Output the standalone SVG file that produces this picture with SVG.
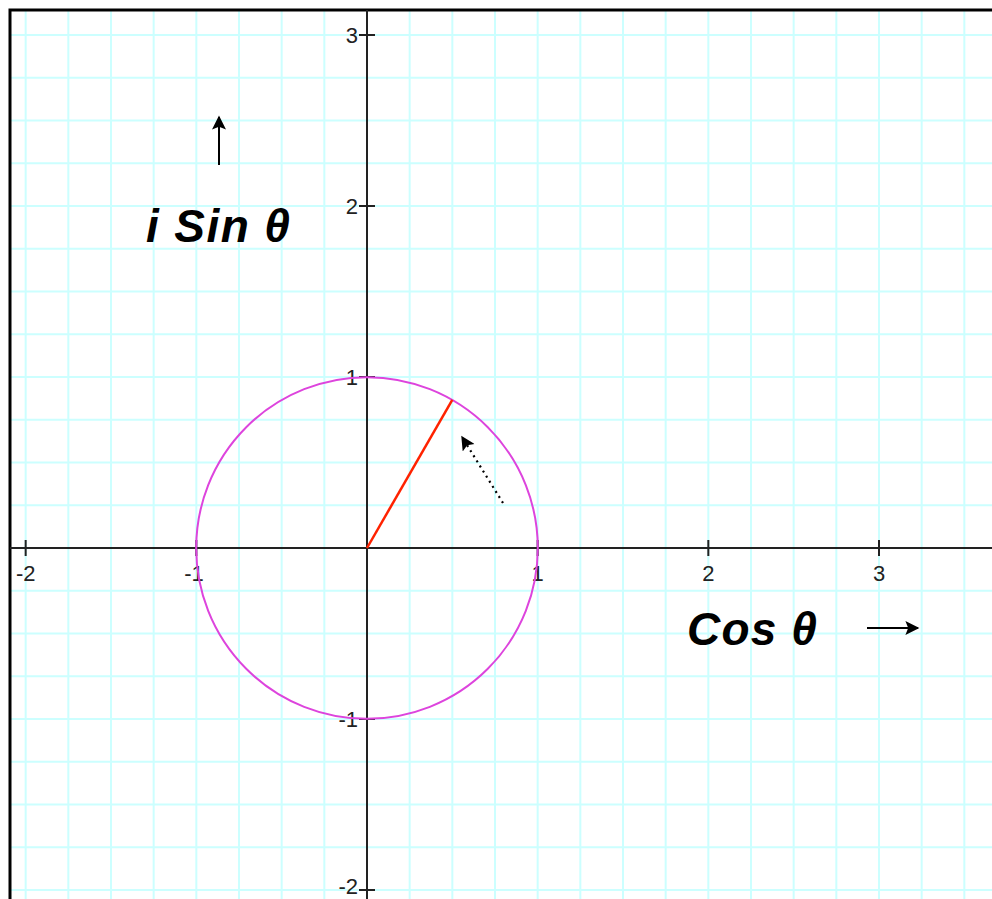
<svg xmlns="http://www.w3.org/2000/svg" width="992" height="899" viewBox="0 0 992 899">
<style>
.grid{stroke:#ccffff;stroke-width:2;fill:none}
.axis{stroke:#222;stroke-width:2;fill:none}
.tick{font-family:"Liberation Sans",Arial,sans-serif;font-size:22px;fill:#222}
.big{font-family:"Liberation Sans",Arial,sans-serif;font-size:46px;font-weight:bold;font-style:italic;fill:#000}
</style>
<defs>
<marker id="ah" viewBox="0 0 10 10" refX="9" refY="5" markerWidth="18" markerHeight="14" markerUnits="userSpaceOnUse" orient="auto">
<path d="M0,0 L10,5 L0,10 L2,5 Z" fill="#000"/>
</marker>
</defs>
<rect x="0" y="0" width="992" height="899" fill="#fff"/>
<g id="grid" class="grid">
<path d="M25.67,10V899M68.33,10V899M111,10V899M153.67,10V899M196.33,10V899M239,10V899M281.67,10V899M324.33,10V899M409.67,10V899M452.33,10V899M495,10V899M537.67,10V899M580.33,10V899M623,10V899M665.67,10V899M708.33,10V899M751,10V899M793.67,10V899M836.33,10V899M879,10V899M921.67,10V899M964.33,10V899"/>
<path d="M10,35H992M10,77.75H992M10,120.5H992M10,163.25H992M10,206H992M10,248.75H992M10,291.5H992M10,334.25H992M10,377H992M10,419.75H992M10,462.5H992M10,505.25H992M10,590.75H992M10,633.5H992M10,676.25H992M10,719H992M10,761.75H992M10,804.5H992M10,847.25H992M10,890H992"/>
</g>
<g id="border">
<path d="M10,899V10H992" stroke="#000" stroke-width="3" fill="none"/>
</g>
<g id="axes" class="axis">
<path d="M10,548H992M367,10V899"/>
<path d="M359,35H375M359,206H375M359,377H375M359,719H375M359,890H375"/>
<path d="M25.67,540V556M196.33,540V556M537.67,540V556M708.33,540V556M879,540V556"/>
</g>
<g id="tick-labels" class="tick">
<text x="358" y="35" text-anchor="end" dominant-baseline="central">3</text>
<text x="358" y="206" text-anchor="end" dominant-baseline="central">2</text>
<text x="358" y="377" text-anchor="end" dominant-baseline="central">1</text>
<text x="358" y="719" text-anchor="end" dominant-baseline="central">-1</text>
<text x="358" y="886" text-anchor="end" dominant-baseline="central">-2</text>
<text x="25.67" y="581" text-anchor="middle">-2</text>
<text x="194" y="581" text-anchor="middle">-1</text>
<text x="537.67" y="581" text-anchor="middle">1</text>
<text x="708.33" y="581" text-anchor="middle">2</text>
<text x="879" y="581" text-anchor="middle">3</text>
</g>
<g id="unit-circle">
<circle cx="367" cy="548" r="170.8" fill="none" stroke="#dd44dd" stroke-width="2"/>
</g>
<g id="radius">
<line x1="367" y1="548" x2="452.3" y2="399.9" stroke="#ff2200" stroke-width="2.5"/>
</g>
<g id="connectors">
<line id="rotation-arrow" x1="503" y1="503" x2="462" y2="437" stroke="#000" stroke-width="2.2" stroke-dasharray="2,4" marker-end="url(#ah)"/>
<line id="sin-arrow" x1="219" y1="165" x2="219" y2="117" stroke="#000" stroke-width="2" marker-end="url(#ah)"/>
<line id="cos-arrow" x1="867" y1="628" x2="918" y2="628" stroke="#000" stroke-width="2" marker-end="url(#ah)"/>
</g>
<g id="label-sin">
<text class="big" x="146" y="242" textLength="144">i Sin θ</text>
</g>
<g id="label-cos">
<text class="big" x="687" y="645" textLength="130">Cos θ</text>
</g>
</svg>
